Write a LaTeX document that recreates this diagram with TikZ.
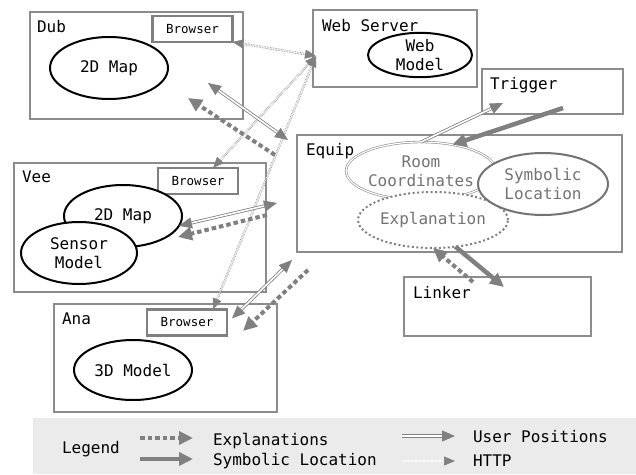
\documentclass[tikz,border=0pt]{standalone}
\usepackage{fontspec}
\setmainfont{DejaVu Sans Mono}
\usetikzlibrary{arrows.meta,shapes.geometric}

\begin{document}
\begin{tikzpicture}[
    x=1pt, y=-1pt,
    every node/.style={inner sep=0pt, outer sep=0pt, font=\fontsize{16}{19}\selectfont},
    box/.style={draw=black!45, line width=1.2pt, anchor=north west},
    tag/.style={anchor=base west},
    browser/.style={draw=black!50, line width=2.5pt, minimum width=80pt, minimum height=26pt, font=\fontsize{12.5}{14}\selectfont},
    model/.style={ellipse, draw=black, line width=2pt, fill=white, align=center},
    equipmodel/.style={ellipse, fill=white, align=center, text=black!55},
    httpline/.style={draw=black!50, densely dotted, line width=0.6pt, double=white, double distance=1.2pt, {Triangle[length=11pt,width=9pt]}-{Triangle[length=11pt,width=9pt]}},
    userline/.style={draw=black!50, line width=0.8pt, double=white, double distance=1.6pt, -{Triangle[length=13pt,width=11pt]}},
    explline/.style={draw=black!50, line width=4pt, dash pattern=on 4.5pt off 3pt, -{Triangle[length=14pt,width=13pt]}},
    symbline/.style={draw=black!50, line width=4.5pt, -{Triangle[length=14pt,width=13pt]}}
]
\useasboundingbox (0,0) rectangle (636,474);

% boxes
\node[box, minimum width=213pt, minimum height=107pt] (dub) at (30,12) {};
\node[box, minimum width=164pt, minimum height=77pt] (ws) at (313,10) {};
\node[box, minimum width=141pt, minimum height=45pt] (trig) at (482,69) {};
\node[box, minimum width=325pt, minimum height=117pt] (equip) at (297,135) {};
\node[box, minimum width=252pt, minimum height=129pt] (vee) at (14,163) {};
\node[box, minimum width=223pt, minimum height=108pt] (ana) at (54,304) {};
\node[box, minimum width=187pt, minimum height=59pt] (linker) at (404,277) {};

% box titles
\node[tag] (dubT) at (37,32) {Dub};
\node[tag] (wsT) at (322,31) {Web Server};
\node[tag] (trigT) at (490,89) {Trigger};
\node[tag] (equipT) at (306,155) {Equip};
\node[tag] (veeT) at (22,182) {Vee};
\node[tag] (anaT) at (62,324) {Ana};
\node[tag] (linkerT) at (413,298) {Linker};

% browsers
\node[browser] (dubB) at (192.5,29) {Browser};
\node[browser] (veeB) at (198,181) {Browser};
\node[browser] (anaB) at (187,322.5) {Browser};

% models
\node[model, minimum width=118pt, minimum height=62pt] (dubMap) at (109,68) {2D Map};
\node[model, minimum width=104pt, minimum height=37pt] (wsModel) at (420,55) {Web\\Model};
\node[model, minimum width=118pt, minimum height=62pt] (veeMap) at (123,216) {2D Map};
\node[model, minimum width=116pt, minimum height=62pt] (sensor) at (79,253) {Sensor\\Model};
\node[model, minimum width=118pt, minimum height=60pt] (anaModel) at (133,370) {3D Model};

% inside equip
\node[equipmodel, draw=black!45, line width=0.6pt, double=white, double distance=1.2pt,
      minimum width=138pt, minimum height=58pt] (room) at (421,171) {Room\\Coordinates};
\node[equipmodel, draw=black!50, line width=2pt, dash pattern=on 2pt off 2.5pt,
      minimum width=132pt, minimum height=56pt] (explan) at (433,220) {Explanation};
\node[equipmodel, draw=black!55, line width=2pt,
      minimum width=130pt, minimum height=62pt] (symb) at (543,184) {Symbolic\\Location};

% free ends
\coordinate (wsIn) at (316,56);
\coordinate (dubU) at (208,83);
\coordinate (eqU1) at (288,140);
\coordinate (eqU2) at (277,203);
\coordinate (eqU3) at (292,260);
\coordinate (trigIn) at (503,103);
\coordinate (eqE1) at (275,155);
\coordinate (dubE) at (188,98);
\coordinate (eqE2) at (267,215);
\coordinate (veeE) at (178,237);
\coordinate (eqE3) at (308,270);
\coordinate (anaE) at (243,331);
\coordinate (linkE) at (473,282);
\coordinate (trigS) at (563,108);
\coordinate (linkS) at (504,287);

% http
\draw[httpline] (dubB.south east) -- (wsIn);
\draw[httpline] ([xshift=15pt]veeB.north) -- (wsIn);
\draw[httpline] ([xshift=26pt]anaB.north) -- (wsIn);

% user positions
\draw[userline, {Triangle[length=13pt,width=11pt]}-{Triangle[length=13pt,width=11pt]}] (dubU) -- (eqU1);
\draw[userline, {Triangle[length=13pt,width=11pt]}-{Triangle[length=13pt,width=11pt]}] (veeMap.-10) -- (eqU2);
\draw[userline, {Triangle[length=13pt,width=11pt]}-{Triangle[length=13pt,width=11pt]}] ([xshift=5pt,yshift=4pt]anaB.east) -- (eqU3);
\draw[userline] (room.north) -- (trigIn);

% explanations
\draw[explline] (eqE1) -- (dubE);
\draw[explline] (eqE2) -- (veeE);
\draw[explline] (eqE3) -- (anaE);
\draw[explline] (linkE) -- (explan.south);

% symbolic location
\draw[symbline] (trigS) -- (room.40);
\draw[symbline] (explan.-50) -- (linkS);

% legend
\node[anchor=north west, fill=black!8, minimum width=603pt, minimum height=56pt] (legendbar) at (33,418) {};
\node[tag] (lgTitle) at (62,453) {Legend};
\coordinate (lgE1) at (140,438);
\coordinate (lgE2) at (193,438);
\coordinate (lgS1) at (140,459);
\coordinate (lgS2) at (193,459);
\coordinate (lgU1) at (402,436);
\coordinate (lgU2) at (455,436);
\coordinate (lgH1) at (402,461);
\coordinate (lgH2) at (455,461);
\draw[explline] (lgE1) -- (lgE2);
\draw[symbline] (lgS1) -- (lgS2);
\draw[userline] (lgU1) -- (lgU2);
\draw[httpline, -{Triangle[length=11pt,width=9pt]}] (lgH1) -- (lgH2);
\node[tag] (lgExpl) at (213,445) {Explanations};
\node[tag] (lgSymb) at (213,465) {Symbolic Location};
\node[tag] (lgUser) at (473,442) {User Positions};
\node[tag] (lgHttp) at (473,466) {HTTP};
\end{tikzpicture}
\end{document}
